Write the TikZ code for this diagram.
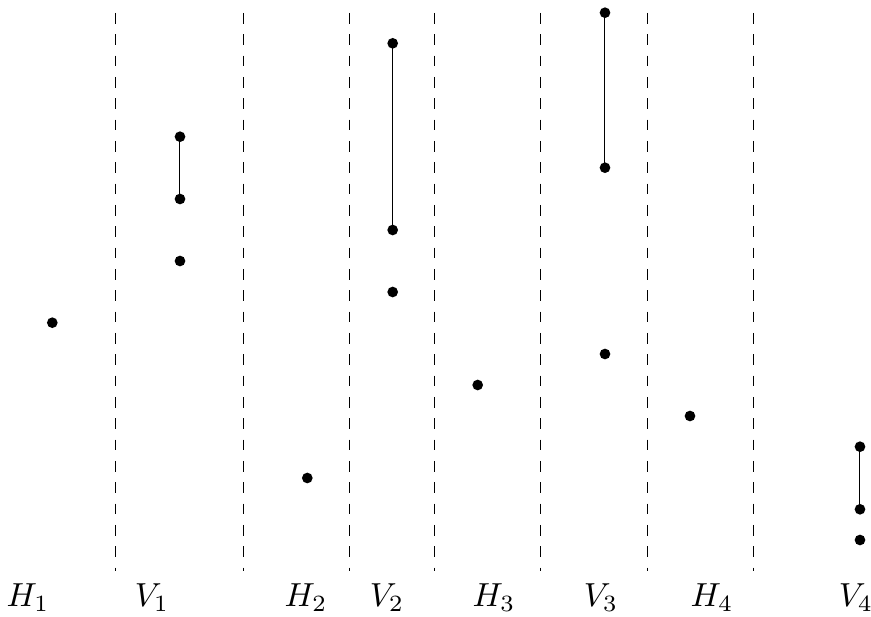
\documentclass[tikz,border=0pt]{standalone}
\begin{document}
\begin{tikzpicture}[x={(0.3pt,0)},y={(0,-0.3pt)},
  pt/.style={circle,fill=black,inner sep=0pt,minimum size=3.2pt},
  sep/.style={dash pattern=on 3.2pt off 3.2pt,line width=0.3pt},
  seg/.style={line width=0.3pt},
  lab/.style={anchor=base,inner sep=0pt}]
\useasboundingbox (0,0) rectangle (871,617);
% separators
\foreach \x [count=\i] in {116,243.7,350,435,541,647.7,753.7}{
  \coordinate (s\i t) at (\x,13);
  \coordinate (s\i b) at (\x,571);
  \draw[sep] (s\i t) -- (s\i b);
}
% dots
\node[pt] (h1) at (52.3,322.7) {};
\node[pt] (v1a) at (180,136.7) {};
\node[pt] (v1b) at (180,199) {};
\node[pt] (v1c) at (180,261) {};
\node[pt] (h2) at (307.3,478) {};
\node[pt] (v2a) at (392.7,43.3) {};
\node[pt] (v2b) at (392.7,230) {};
\node[pt] (v2c) at (392.7,292) {};
\node[pt] (h3) at (477.7,385) {};
\node[pt] (v3a) at (605,12.7) {};
\node[pt] (v3b) at (605,167.7) {};
\node[pt] (v3c) at (605,354) {};
\node[pt] (h4) at (690,416) {};
\node[pt] (v4a) at (860,446.7) {};
\node[pt] (v4b) at (860,509.3) {};
\node[pt] (v4c) at (860,540) {};
% segments
\draw[seg] (v1a.center) -- (v1b.center);
\draw[seg] (v2a.center) -- (v2b.center);
\draw[seg] (v3a.center) -- (v3b.center);
\draw[seg] (v4a.center) -- (v4b.center);
% labels
\node[lab] (lh1) at (28,607) {$H_1$};
\node[lab] (lv1) at (152,607) {$V_1$};
\node[lab] (lh2) at (306,607) {$H_2$};
\node[lab] (lv2) at (387,607) {$V_2$};
\node[lab] (lh3) at (494,607) {$H_3$};
\node[lab] (lv3) at (601,607) {$V_3$};
\node[lab] (lh4) at (712,607) {$H_4$};
\node[lab] (lv4) at (856,607) {$V_4$};
\end{tikzpicture}
\end{document}
